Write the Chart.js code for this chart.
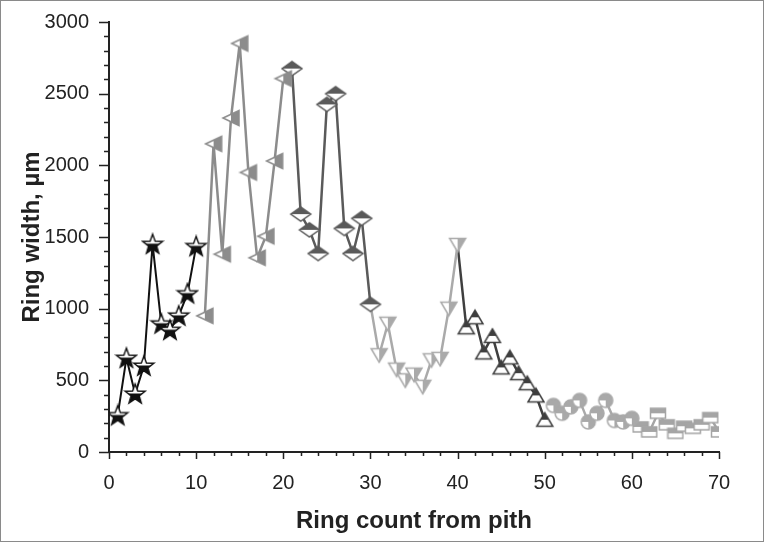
<!DOCTYPE html>
<html>
<head>
    <script src="https://cdn.jsdelivr.net/npm/chart.js@4"></script>
    <style>
        body { margin: 0; background: #fff; }
        #wrap { width: 764px; height: 542px; position: relative; }
    </style>
</head>
<body>
<div id="wrap">
    <canvas id="myChart"></canvas>
</div>
<script>
    // ring number from pith (x)
    var rings = [1, 2, 3, 4, 5, 6, 7, 8, 9, 10,
        11, 12, 13, 14, 15, 16, 17, 18, 19, 20,
        21, 22, 23, 24, 25, 26, 27, 28, 29, 30,
        31, 32, 33, 34, 35, 36, 37, 38, 39, 40,
        41, 42, 43, 44, 45, 46, 47, 48, 49, 50,
        51, 52, 53, 54, 55, 56, 57, 58, 59, 60,
        61, 62, 63, 64, 65, 66, 67, 68, 69, 70];

    // ring widths (um), one array per marker group
    var starWidths    = [255, 655, 405, 600, 1450, 895, 850, 950, 1105, 1435];
    var leftTriWidths = [950, 2150, 1380, 2330, 2850, 1950, 1355, 1505, 2030, 2605];
    var diamondWidths = [2675, 1660, 1550, 1385, 2425, 2500, 1560, 1385, 1630, 1030];
    var downTriWidths = [675, 895, 575, 500, 540, 455, 640, 650, 1000, 1445];
    var upTriWidths   = [870, 940, 695, 810, 590, 660, 550, 480, 395, 225];
    var circleWidths  = [325, 270, 315, 360, 210, 270, 360, 220, 210, 235];
    var squareWidths  = [175, 140, 270, 190, 130, 180, 165, 190, 240, 140];

    var xTicks = ['0', '10', '20', '30', '40', '50', '60', '70'];
    var yTicks = ['0', '500', '1000', '1500', '2000', '2500', '3000'];

    function pts(xs, ys) {
        return xs.map(function (x, i) { return {x: x, y: ys[i]}; });
    }

    // marker images -------------------------------------------------------
    function makeCanvas(w, h) {
        var c = document.createElement('canvas');
        c.width = w; c.height = h;
        return c;
    }
    function halfFill(ctx, path, w, h, color, clip) {
        ctx.fillStyle = '#fff';
        path(); ctx.fill();
        ctx.save();
        ctx.beginPath();
        if (clip === 'top') ctx.rect(0, 0, w, h / 2);
        if (clip === 'right') ctx.rect(w / 2, 0, w / 2, h);
        ctx.clip();
        ctx.fillStyle = color;
        path(); ctx.fill();
        ctx.restore();
        ctx.strokeStyle = color;
        ctx.lineWidth = 1.5;
        ctx.lineJoin = 'miter';
        path(); ctx.stroke();
    }

    function starMarker() {
        var c = makeCanvas(24, 24), ctx = c.getContext('2d');
        var path = function () {
            ctx.beginPath();
            for (var i = 0; i < 10; i++) {
                var r = i % 2 === 0 ? 10.5 : 4.3;
                var a = -Math.PI / 2 + i * Math.PI / 5;
                var px = 12 + r * Math.cos(a), py = 12.5 + r * Math.sin(a);
                if (i === 0) ctx.moveTo(px, py); else ctx.lineTo(px, py);
            }
            ctx.closePath();
        };
        ctx.fillStyle = '#111';
        path(); ctx.fill();
        ctx.save();
        ctx.beginPath(); ctx.rect(0, 0, 24, 11.5); ctx.clip();
        ctx.fillStyle = '#fff'; path(); ctx.fill();
        ctx.restore();
        ctx.strokeStyle = '#111'; ctx.lineWidth = 1.4;
        path(); ctx.stroke();
        return c;
    }
    function leftTriMarker() {
        var c = makeCanvas(20, 20), ctx = c.getContext('2d');
        halfFill(ctx, function () {
            ctx.beginPath(); ctx.moveTo(2, 10); ctx.lineTo(18, 2.5); ctx.lineTo(18, 17.5); ctx.closePath();
        }, 20, 20, '#8c8c8c', 'right');
        return c;
    }
    function diamondMarker() {
        var c = makeCanvas(24, 18), ctx = c.getContext('2d');
        halfFill(ctx, function () {
            ctx.beginPath(); ctx.moveTo(2, 9); ctx.lineTo(12, 2); ctx.lineTo(22, 9); ctx.lineTo(12, 16); ctx.closePath();
        }, 24, 18, '#5a5a5a', 'top');
        return c;
    }
    function downTriMarker() {
        var c = makeCanvas(20, 18), ctx = c.getContext('2d');
        halfFill(ctx, function () {
            ctx.beginPath(); ctx.moveTo(2, 2.5); ctx.lineTo(18, 2.5); ctx.lineTo(10, 16); ctx.closePath();
        }, 20, 18, '#aaaaaa', 'right');
        return c;
    }
    function upTriMarker() {
        var c = makeCanvas(20, 18), ctx = c.getContext('2d');
        halfFill(ctx, function () {
            ctx.beginPath(); ctx.moveTo(10, 2); ctx.lineTo(18, 15.5); ctx.lineTo(2, 15.5); ctx.closePath();
        }, 20, 18, '#3f3f3f', 'top');
        return c;
    }
    function circleMarker() {
        var c = makeCanvas(18, 18), ctx = c.getContext('2d');
        var col = '#a9a9a9';
        ctx.fillStyle = col;
        ctx.beginPath(); ctx.arc(9, 9, 7, 0, Math.PI * 2); ctx.fill();
        ctx.fillStyle = '#fff';
        ctx.beginPath(); ctx.moveTo(9, 9); ctx.arc(9, 9, 7, Math.PI / 2, Math.PI); ctx.closePath(); ctx.fill();
        ctx.strokeStyle = col; ctx.lineWidth = 1.5;
        ctx.beginPath(); ctx.arc(9, 9, 7, 0, Math.PI * 2); ctx.stroke();
        return c;
    }
    function squareMarker() {
        var c = makeCanvas(18, 14), ctx = c.getContext('2d');
        halfFill(ctx, function () {
            ctx.beginPath(); ctx.rect(1.5, 2, 15, 10);
        }, 18, 14, '#a5a5a5', 'top');
        return c;
    }

    // first point of a group that is only a connector from the previous group
    function hideFirst(ctx) { return ctx.dataIndex === 0 ? 0 : 8; }

    function series(data, color, marker, width, connector) {
        return {
            data: data,
            borderColor: color,
            backgroundColor: color,
            borderWidth: width,
            pointStyle: marker,
            pointRadius: connector ? hideFirst : 8,
            pointHoverRadius: connector ? hideFirst : 8,
            tension: 0
        };
    }

    var tickMarks = {
        id: 'tickMarks',
        afterDraw: function (chart) {
            var ctx = chart.ctx, xs = chart.scales.x, ys = chart.scales.y;
            ctx.save();
            ctx.strokeStyle = '#222';
            ctx.lineWidth = 1.5;
            ctx.beginPath();
            xs.ticks.forEach(function (t) {
                var px = Math.round(xs.getPixelForValue(t.value)) + 0.5;
                var len = t.value % 10 === 0 ? 7 : 4;
                ctx.moveTo(px, xs.top); ctx.lineTo(px, xs.top + len);
            });
            ys.ticks.forEach(function (t) {
                var py = Math.round(ys.getPixelForValue(t.value)) + 0.5;
                var len = t.value % 500 === 0 ? 10 : 5;
                ctx.moveTo(ys.right, py); ctx.lineTo(ys.right - len, py);
            });
            ctx.stroke();
            ctx.strokeStyle = '#8a8a8a';
            ctx.lineWidth = 1;
            ctx.strokeRect(0.5, 0.5, chart.width - 1, chart.height - 1);
            ctx.restore();
        }
    };

    var font = "'Liberation Sans', Arial, Helvetica, sans-serif";

    var chart = new Chart(document.getElementById('myChart').getContext('2d'), {
        type: 'line',
        data: {
            datasets: [
                series(pts(rings.slice(0, 10), starWidths), '#111111', starMarker(), 2, false),
                series(pts(rings.slice(10, 20), leftTriWidths), '#8c8c8c', leftTriMarker(), 2.5, false),
                series(pts(rings.slice(20, 30), diamondWidths), '#5a5a5a', diamondMarker(), 2.5, false),
                series(pts(rings.slice(29, 40), [diamondWidths[9]].concat(downTriWidths)), '#aaaaaa', downTriMarker(), 2.5, true),
                series(pts(rings.slice(39, 50), [downTriWidths[9]].concat(upTriWidths)), '#3f3f3f', upTriMarker(), 2.5, true),
                series(pts(rings.slice(50, 60), circleWidths), '#a9a9a9', circleMarker(), 2.5, false),
                series(pts(rings.slice(60, 70), squareWidths), '#a5a5a5', squareMarker(), 2.5, false)
            ]
        },
        options: {
            responsive: true,
            maintainAspectRatio: false,
            animation: false,
            layout: { padding: { top: 9, right: 45, left: 0, bottom: 0 } },
            plugins: { legend: { display: false }, tooltip: { enabled: false } },
            scales: {
                x: {
                    type: 'linear',
                    min: 0, max: 70,
                    afterFit: function (s) { s.height = 90; },
                    grid: { display: false },
                    border: { display: true, color: '#222', width: 2 },
                    ticks: {
                        stepSize: 2,
                        autoSkip: false,
                        maxRotation: 0,
                        padding: 11,
                        color: '#222',
                        font: { family: font, size: 20 },
                        callback: function (v) { return xTicks.indexOf(String(v)) >= 0 ? String(v) : ''; }
                    },
                    title: {
                        display: true,
                        text: 'Ring count from pith',
                        color: '#222',
                        font: { family: font, size: 24, weight: 'bold' },
                        padding: { top: 0, bottom: 6 }
                    }
                },
                y: {
                    min: 0, max: 3000,
                    afterFit: function (s) { s.width = 109; },
                    grid: { display: false },
                    border: { display: true, color: '#222', width: 2 },
                    ticks: {
                        stepSize: 100,
                        autoSkip: false,
                        padding: 12,
                        color: '#222',
                        font: { family: font, size: 20, lineHeight: 1 },
                        callback: function (v) { return yTicks.indexOf(String(v)) >= 0 ? String(v) : ''; }
                    },
                    title: {
                        display: true,
                        text: 'Ring width, µm',
                        color: '#222',
                        font: { family: font, size: 24, weight: 'bold' },
                        padding: { top: 18, bottom: 0 }
                    }
                }
            }
        },
        plugins: [tickMarks]
    });
</script>
</body>
</html>
